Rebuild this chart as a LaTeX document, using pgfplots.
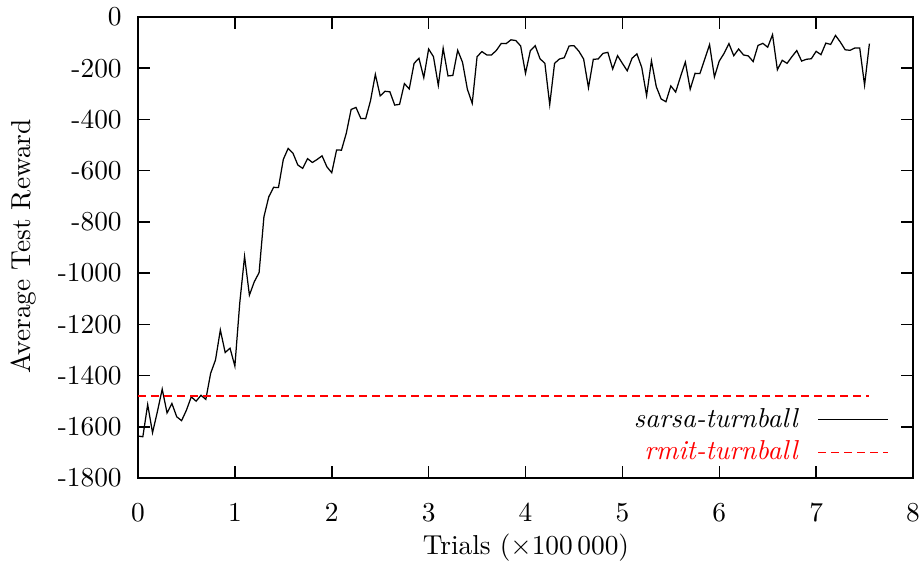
\documentclass[border=0pt]{standalone}
\usepackage{pgfplots}
\pgfplotsset{compat=1.18}
\usepackage{pgfplotstable}
\pgfplotstableread{
x y
0.00 -1636
0.05 -1639
0.10 -1513
0.15 -1623
0.20 -1541
0.25 -1453
0.30 -1546
0.35 -1509
0.40 -1561
0.45 -1576
0.50 -1535
0.55 -1483
0.60 -1500
0.65 -1477
0.70 -1493
0.75 -1391
0.80 -1339
0.85 -1222
0.90 -1310
0.95 -1293
1.00 -1363
1.05 -1118
1.10 -935
1.15 -1086
1.20 -1034
1.25 -998
1.30 -780
1.35 -702
1.40 -665
1.45 -666
1.50 -556
1.55 -513
1.60 -532
1.65 -578
1.70 -591
1.75 -553
1.80 -568
1.85 -556
1.90 -542
1.95 -585
2.00 -608
2.05 -519
2.10 -520
2.15 -454
2.20 -361
2.25 -353
2.30 -396
2.35 -397
2.40 -327
2.45 -224
2.50 -308
2.55 -290
2.60 -292
2.65 -344
2.70 -341
2.75 -260
2.80 -281
2.85 -181
2.90 -161
2.95 -237
3.00 -125
3.05 -155
3.10 -267
3.15 -122
3.20 -230
3.25 -228
3.30 -130
3.35 -177
3.40 -282
3.45 -337
3.50 -155
3.55 -135
3.60 -148
3.65 -148
3.70 -130
3.75 -103
3.80 -104
3.85 -89
3.90 -92
3.95 -113
4.00 -220
4.05 -131
4.10 -112
4.15 -163
4.20 -181
4.25 -342
4.30 -181
4.35 -164
4.40 -159
4.45 -113
4.50 -112
4.55 -133
4.60 -164
4.65 -276
4.70 -165
4.75 -164
4.80 -142
4.85 -138
4.90 -203
4.95 -151
5.00 -181
5.05 -210
5.10 -161
5.15 -144
5.20 -197
5.25 -307
5.30 -171
5.35 -272
5.40 -320
5.45 -331
5.50 -269
5.55 -293
5.60 -233
5.65 -176
5.70 -282
5.75 -220
5.80 -221
5.85 -165
5.90 -108
5.95 -234
6.00 -172
6.05 -142
6.10 -104
6.15 -151
6.20 -125
6.25 -148
6.30 -152
6.35 -174
6.40 -111
6.45 -103
6.50 -118
6.55 -69
6.60 -206
6.65 -169
6.70 -181
6.75 -155
6.80 -131
6.85 -172
6.90 -165
6.95 -163
7.00 -134
7.05 -147
7.10 -102
7.15 -107
7.20 -72
7.25 -98
7.30 -128
7.35 -130
7.40 -121
7.45 -121
7.50 -266
7.55 -104
}\sarsa
\pgfplotstableread{
x y
0.00 -1480
7.55 -1480
}\rmit
\begin{document}
\begin{tikzpicture}
\begin{axis}[
  name=ax,
  scale only axis,
  width=310pt, height=184.4pt,
  font=\fontsize{10.95}{13.6}\selectfont,
  xmin=0, xmax=8, ymin=-1800, ymax=0,
  xtick={0,1,2,3,4,5,6,7,8},
  ytick={-1800,-1600,-1400,-1200,-1000,-800,-600,-400,-200,0},
  yticklabels={-1800,-1600,-1400,-1200,-1000,-800,-600,-400,-200,0},
  tick align=inside,
  major tick length=4.8pt,
  axis line style={line width=0.6pt},
  every tick/.style={line width=0.6pt, black},
  yticklabel style={xshift=-3pt},
  xticklabel style={yshift=-7pt},
  xlabel={Trials ($\times$100\,000)},
  ylabel={Average Test Reward},
  xlabel style={at={(axis description cs:0.5006,-0.152)}, anchor=center},
  ylabel style={at={(axis description cs:-0.148,0.503)}, anchor=center, rotate=0},
  legend style={draw=none, fill=none, at={(rel axis cs:1,0)}, anchor=south east,
    xshift=-6.4pt, yshift=1.6pt, row sep=0pt, column sep=5.5pt},
  legend cell align=right,
  legend plot pos=right,
  legend image code/.code={\draw[#1] (0pt,0pt) -- (28pt,0pt);},
]
\addplot[black, line width=0.5pt] table[x=x,y=y] {\sarsa};
\addlegendentry{\textit{sarsa-turnball}}
\addplot[red, line width=0.5pt, dash pattern=on 3.2pt off 2pt] table[x=x,y=y] {\rmit};
\addlegendentry{\textcolor{red}{\textit{rmit-turnball}}}
\end{axis}
\pgfresetboundingbox
\path ([xshift=-55.2pt,yshift=-34.8pt]ax.south west) rectangle ([xshift=3.2pt,yshift=6.8pt]ax.north east);
\end{tikzpicture}
\end{document}
